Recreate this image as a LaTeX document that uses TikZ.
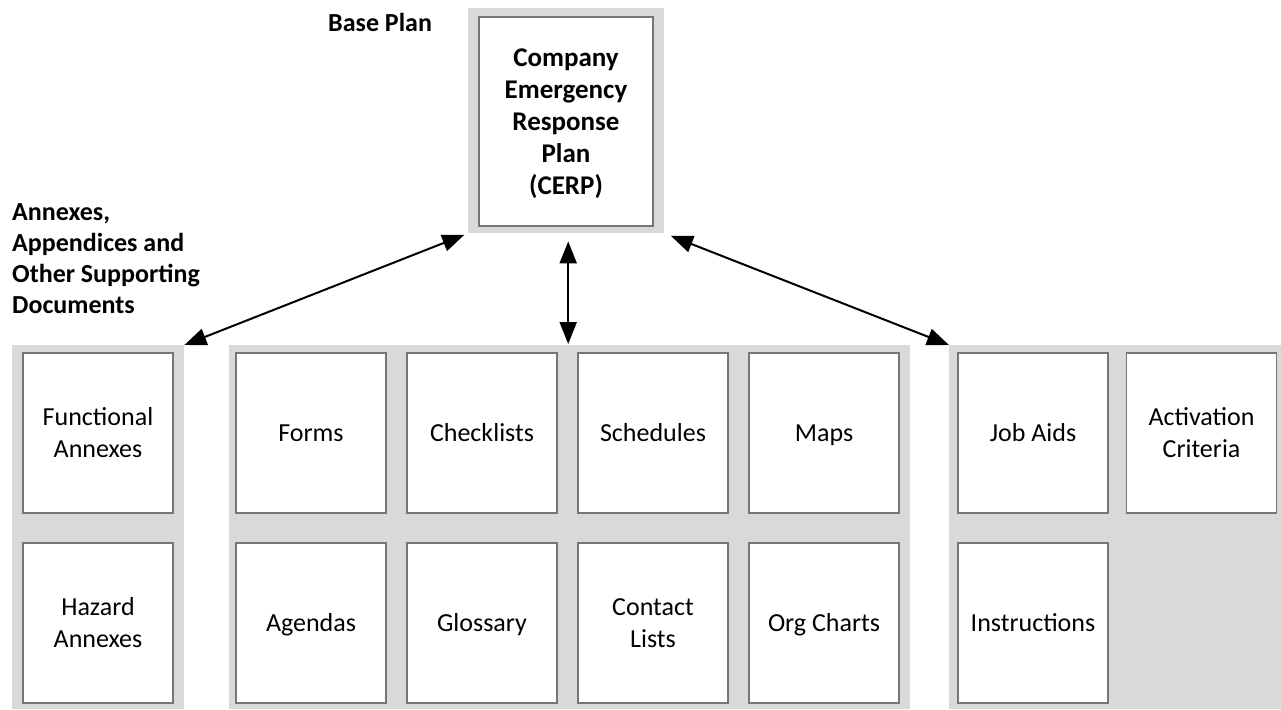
\documentclass[tikz,border=0pt]{standalone}
\usepackage{fontspec}
\setmainfont{Carlito}
\usetikzlibrary{arrows.meta}
\definecolor{panelgray}{HTML}{D9D9D9}
\definecolor{boxline}{HTML}{767676}
\begin{document}
\begin{tikzpicture}[x=1pt,y=-1pt,
  panel/.style={draw=none,fill=panelgray,inner sep=0pt,anchor=north west},
  docbox/.style={draw=boxline,line width=1.2pt,fill=white,inner sep=0pt,minimum width=150pt,minimum height=160pt,align=center,font=\fontsize{26}{32}\selectfont},
  oneline/.style={text height=17pt,text depth=0pt},
  lbl/.style={align=left,inner sep=0pt,font=\fontsize{26}{31}\selectfont\bfseries},
  arr/.style={line width=2pt,{Triangle[length=22pt,width=17pt]}-{Triangle[length=22pt,width=17pt]}}
]
\useasboundingbox (0,0) rectangle (1281,709);
% panels
\node[panel,minimum width=196pt,minimum height=225pt] (toppanel) at (468,8) {};
\node[panel,minimum width=172pt,minimum height=364pt] (leftpanel) at (12,345) {};
\node[panel,minimum width=681pt,minimum height=364pt] (midpanel) at (229,345) {};
\node[panel,minimum width=332pt,minimum height=364pt] (rightpanel) at (949,345) {};
% CERP
\node[docbox,minimum width=174pt,minimum height=209pt,font=\fontsize{27}{32}\selectfont\bfseries] (cerp) at (566,121.5) {\rule{0pt}{22pt}Company\\Emergency\\Response\\Plan\\(CERP)};
% labels
\node[lbl,anchor=west] (baseplan) at (328,22) {Base Plan};
\node[lbl,anchor=north west] (annexlbl) at (12,203) {Annexes,\\Appendices and\\Other Supporting\\Documents};
% boxes row 1
\node[docbox] (func) at (98,433) {Functional\\Annexes};
\node[docbox,oneline] (forms) at (311,433) {Forms};
\node[docbox,oneline] (check) at (482,433) {Checklists};
\node[docbox,oneline] (sched) at (653,433) {Schedules};
\node[docbox,oneline] (maps) at (824,433) {Maps};
\node[docbox,oneline] (jobaids) at (1033,433) {Job Aids};
\node[docbox] (activ) at (1201.5,433) {Activation\\Criteria};
% boxes row 2
\node[docbox] (hazard) at (98,623) {Hazard\\Annexes};
\node[docbox,oneline] (agendas) at (311,623) {Agendas};
\node[docbox,oneline] (gloss) at (482,623) {Glossary};
\node[docbox] (contact) at (653,623) {Contact\\Lists};
\node[docbox,oneline] (org) at (824,623) {Org Charts};
\node[docbox,oneline] (instr) at (1033,623) {Instructions};
% arrows
\draw[arr,shorten <=4pt] (toppanel.south west) -- (leftpanel.north east);
\draw[arr,shorten <=8pt,shorten >=1pt] ([xshift=2pt]toppanel.south) -- ([xshift=2pt]toppanel.south |- midpanel.north);
\draw[arr,shorten <=7pt] (toppanel.south east) -- (rightpanel.north west);
\end{tikzpicture}
\end{document}
